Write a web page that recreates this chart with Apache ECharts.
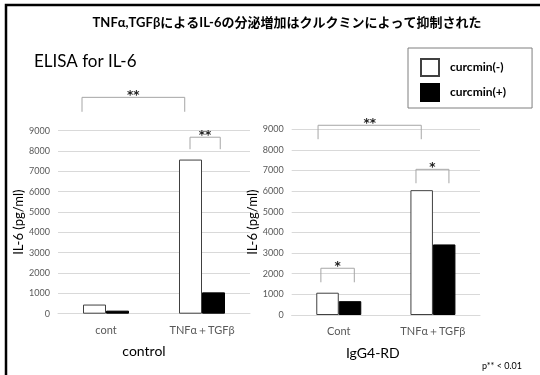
<!DOCTYPE html>
<html>
<head>
<meta charset="utf-8">
<script src="https://cdn.jsdelivr.net/npm/echarts@6/dist/echarts.min.js"></script>
<style>html,body{margin:0;padding:0;background:#fff}#c{width:540px;height:375px}</style>
</head>
<body>
<div id="c"></div>
<script>
// ---- data ----
const categoriesLeft = ['cont', 'TNFα＋TGFβ'];
const categoriesRight = ['Cont', 'TNFα＋TGFβ'];
const seriesNames = ['curcmin(-)', 'curcmin(+)'];
const leftNeg = [450, 7580];
const leftPos = [150, 1050];
const rightNeg = [1080, 6050];
const rightPos = [670, 3420];
const yMin = 0, yMax = 9000, yStep = 1000;
// brackets: x in category units, top / leg in IL-6 units
const bracketsLeft = [
  { x1: -0.25, x2: 0.82, top: 10640, leg: 9930, label: '**' },
  { x1: 0.875, x2: 1.19, top: 8680, leg: 8090, label: '**' }
];
const bracketsRight = [
  { x1: -0.22, x2: 0.876, top: 9195, leg: 8520, label: '**' },
  { x1: 0.82, x2: 1.17, top: 7060, leg: 6385, label: '*' },
  { x1: -0.19, x2: 0.165, top: 2265, leg: 1585, label: '*' }
];

const FONT = 'Lato, "Noto Sans", sans-serif';
const chart = echarts.init(document.getElementById('c'), null, { renderer: 'canvas' });

function bracketRender(list) {
  return function (params, api) {
    const b = list[params.dataIndex];
    const p1 = api.coord([b.x1, b.top]);
    const p2 = api.coord([b.x2, b.top]);
    const l1 = api.coord([b.x1, b.leg]);
    const l2 = api.coord([b.x2, b.leg]);
    return {
      type: 'group',
      children: [
        { type: 'polyline', shape: { points: [l1, p1, p2, l2] },
          style: { stroke: '#a6a6a6', fill: null, lineWidth: 1 } },
        { type: 'text', style: { text: b.label, x: (p1[0] + p2[0]) / 2, y: p1[1] - 1,
          textAlign: 'center', textVerticalAlign: 'middle', fill: '#222', font: 'bold 12px "DejaVu Sans", sans-serif' } }
      ]
    };
  };
}

const yAxisCommon = {
  type: 'value', min: yMin, max: yMax, interval: yStep,
  name: 'IL-6 (pg/ml)', nameLocation: 'middle', nameGap: 31,
  nameTextStyle: { color: '#000', fontSize: 13, fontFamily: FONT },
  axisLine: { show: false }, axisTick: { show: false },
  axisLabel: { color: '#595959', fontSize: 9, fontFamily: FONT, margin: 8, formatter: v => String(v) },
  splitLine: { lineStyle: { color: '#d9d9d9', width: 1 } }
};
const xAxisCommon = {
  type: 'category', nameLocation: 'middle', nameGap: 31,
  axisLine: { lineStyle: { color: '#d9d9d9' } }, axisTick: { show: false },
  axisLabel: { color: '#595959', fontSize: 11, fontFamily: FONT, margin: 11 }
};

chart.setOption({
  backgroundColor: '#fff',
  animation: false,
  legend: {
    data: seriesNames, orient: 'vertical', left: 408, top: 48,
    itemWidth: 18, itemHeight: 17, itemGap: 6,
    padding: [10, 26, 6, 12],
    borderColor: '#7f7f7f', borderWidth: 1,
    icon: 'rect',
    textStyle: { color: '#000', fontSize: 12, fontWeight: 'bold', fontFamily: FONT, padding: [0, 0, 0, 6] }
  },
  grid: [
    { left: 58, right: 290, top: 130.7, bottom: 61.3 },
    { left: 291.7, right: 60, top: 129.3, bottom: 60 }
  ],
  xAxis: [
    Object.assign({}, xAxisCommon, { gridIndex: 0, data: categoriesLeft, name: 'control',
      nameTextStyle: { color: '#000', fontSize: 14, fontFamily: FONT, padding: [0, 20, 0, 0] } }),
    Object.assign({}, xAxisCommon, { gridIndex: 1, data: categoriesRight, name: 'IgG4-RD',
      nameTextStyle: { color: '#000', fontSize: 14, fontFamily: FONT, padding: [0, 26, 0, 0] } }),
    { type: 'value', gridIndex: 0, min: -0.5, max: 1.5, show: false },
    { type: 'value', gridIndex: 1, min: -0.5, max: 1.5, show: false }
  ],
  yAxis: [
    Object.assign({}, yAxisCommon, { gridIndex: 0 }),
    Object.assign({}, yAxisCommon, { gridIndex: 1 })
  ],
  series: [
    { name: seriesNames[0], type: 'bar', xAxisIndex: 0, yAxisIndex: 0, data: leftNeg,
      barWidth: 23, barGap: '0%', itemStyle: { color: '#fff', borderColor: '#404040', borderWidth: 1 } },
    { name: seriesNames[1], type: 'bar', xAxisIndex: 0, yAxisIndex: 0, data: leftPos,
      barWidth: 23, barGap: '0%', itemStyle: { color: '#000', borderColor: '#000', borderWidth: 1 } },
    { name: seriesNames[0], type: 'bar', xAxisIndex: 1, yAxisIndex: 1, data: rightNeg,
      barWidth: 22.5, barGap: '0%', itemStyle: { color: '#fff', borderColor: '#404040', borderWidth: 1 } },
    { name: seriesNames[1], type: 'bar', xAxisIndex: 1, yAxisIndex: 1, data: rightPos,
      barWidth: 22.5, barGap: '0%', itemStyle: { color: '#000', borderColor: '#000', borderWidth: 1 } },
    { type: 'custom', xAxisIndex: 2, yAxisIndex: 0, clip: false, silent: true,
      data: bracketsLeft.map(b => [b.x1, b.top]), renderItem: bracketRender(bracketsLeft) },
    { type: 'custom', xAxisIndex: 3, yAxisIndex: 1, clip: false, silent: true,
      data: bracketsRight.map(b => [b.x1, b.top]), renderItem: bracketRender(bracketsRight) }
  ],
  graphic: [
    { type: 'rect', shape: { x: 6, y: 5, width: 600, height: 420 },
      style: { fill: null, stroke: '#000', lineWidth: 2.5 }, silent: true },
    { type: 'text', x: 287, y: 23, style: { text: 'TNFα,TGFβによるIL-6の分泌増加はクルクミンによって抑制された',
      textAlign: 'center', textVerticalAlign: 'middle', fill: '#000',
      font: 'bold 13px ' + FONT + ', "Noto Sans CJK JP"' } },
    { type: 'text', x: 34, y: 62, style: { text: 'ELISA for IL-6', textAlign: 'left', textVerticalAlign: 'middle',
      fill: '#000', font: '17px ' + FONT } },
    { type: 'text', x: 482, y: 366, style: { text: 'p** < 0.01', textAlign: 'left', textVerticalAlign: 'middle',
      fill: '#000', font: '9px ' + FONT } }
  ]
});
</script>
</body>
</html>
